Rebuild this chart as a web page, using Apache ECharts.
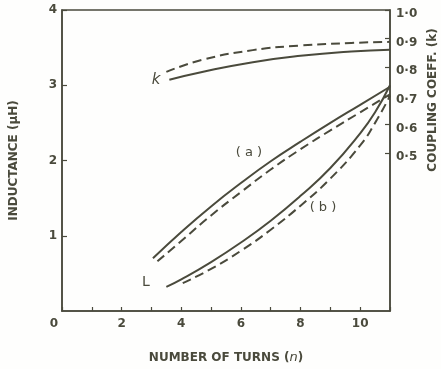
<!DOCTYPE html>
<html>
<head>
<meta charset="utf-8">
<script src="https://cdn.jsdelivr.net/npm/echarts@6/dist/echarts.min.js"></script>
<style>
  html, body { margin: 0; padding: 0; background: #fefefd; }
  #chart { width: 441px; height: 369px; }
</style>
</head>
<body>
<div id="chart"></div>
<script>
// [number of turns, value]
const kSolid = [[3.6, 0.757], [4.7, 0.784], [6.4, 0.818], [8.0, 0.84], [9.7, 0.855], [11, 0.861]];
const kDashed = [[3.5, 0.784], [4.7, 0.826], [6.4, 0.86], [8.0, 0.876], [9.7, 0.885], [11, 0.889]];
const aSolid = [[3.05, 0.7], [4, 1.05], [5, 1.39], [6, 1.7], [7, 1.99], [8, 2.25], [9, 2.5], [10, 2.74], [11, 2.98]];
const aDashed = [[3.2, 0.66], [4, 0.93], [5, 1.27], [6, 1.58], [7, 1.88], [8, 2.15], [9, 2.4], [10, 2.64], [11, 2.88]];
const bSolid = [[3.5, 0.32], [4, 0.42], [5, 0.65], [6, 0.91], [7, 1.2], [8, 1.53], [9, 1.9], [10, 2.36], [10.5, 2.64], [11, 3.0]];
const bDashed = [[4.05, 0.37], [5, 0.56], [6, 0.8], [7, 1.08], [8, 1.4], [9, 1.76], [10, 2.2], [10.5, 2.5], [11, 2.86]];
const kTicks = [0.5, 0.6, 0.7, 0.8, 0.9, 1.0];

const ink = "#4a4a3c";
const font = "DejaVu Sans";

let myChart = echarts.init(document.getElementById("chart"));

function line(data, dashed, axis) {
  return {
    type: "line",
    data: data,
    yAxisIndex: axis,
    smooth: 0.5,
    symbol: "none",
    lineStyle: { color: ink, width: 2, type: dashed ? [9, 5] : "solid" },
  };
}

myChart.setOption({
  animation: false,
  backgroundColor: "#fefefd",
  grid: {
    left: 61,
    right: 51,
    top: 10,
    bottom: 57,
    show: true,
    borderColor: ink,
    borderWidth: 1.5,
  },
  xAxis: {
    type: "value",
    min: 0,
    max: 11,
    interval: 1,
    name: "{t|NUMBER OF TURNS (}{i|n}{t|)}",
    nameLocation: "middle",
    nameGap: 40,
    nameTextStyle: {
      rich: {
        t: { fontFamily: font, fontSize: 12, fontWeight: "bold", color: ink },
        i: { fontFamily: font, fontSize: 13, fontStyle: "italic", color: ink },
      },
    },
    axisLine: { lineStyle: { color: ink, width: 1.5 } },
    axisTick: { inside: true, length: 4, lineStyle: { color: ink, width: 1.2 } },
    splitLine: { show: false },
    axisLabel: {
      margin: 7,
      formatter: (v) => (v === 0 ? "{z|0}" : v % 2 === 0 && v < 11 ? String(v) : ""),
      fontFamily: font,
      fontSize: 12,
      fontWeight: "bold",
      color: ink,
      rich: {
        z: { fontFamily: font, fontSize: 12, fontWeight: "bold", color: ink, padding: [0, 16, 0, 0] },
      },
    },
  },
  yAxis: [
    {
      type: "value",
      min: 0,
      max: 4,
      interval: 1,
      name: "INDUCTANCE (μH)",
      nameLocation: "middle",
      nameGap: 42,
      nameTextStyle: { fontFamily: font, fontSize: 12, fontWeight: "bold", color: ink },
      axisLine: { show: true, lineStyle: { color: ink, width: 1.5 } },
      axisTick: { inside: true, length: 5, lineStyle: { color: ink, width: 1.2 } },
      splitLine: { show: false },
      axisLabel: {
        margin: 5,
        showMinLabel: false,
        fontFamily: font,
        fontSize: 12,
        fontWeight: "bold",
        color: ink,
      },
    },
    {
      type: "value",
      min: -0.05,
      max: 1.0,
      position: "right",
      axisLine: { show: true, lineStyle: { color: ink, width: 1.5 } },
      axisTick: { inside: true, length: 5, customValues: kTicks, lineStyle: { color: ink, width: 1.2 } },
      splitLine: { show: false },
      axisLabel: {
        margin: 6,
        customValues: kTicks,
        formatter: (v) => v.toFixed(1).replace(".", "·"),
        verticalAlign: "top",
        lineHeight: 8,
        fontFamily: font,
        fontSize: 12,
        fontWeight: "bold",
        color: ink,
      },
    },
  ],
  graphic: [
    {
      type: "text",
      x: 433,
      y: 100,
      rotation: Math.PI / 2,
      style: {
        text: "COUPLING COEFF. (k)",
        fontFamily: font,
        fontSize: 12,
        fontWeight: "bold",
        fill: ink,
        align: "center",
        verticalAlign: "middle",
      },
    },
    {
      type: "text",
      x: 156,
      y: 80,
      style: { text: "k", fontFamily: font, fontSize: 15, fontStyle: "italic", fill: ink, align: "center", verticalAlign: "middle" },
    },
    {
      type: "text",
      x: 249,
      y: 153,
      style: { text: "( a )", fontFamily: font, fontSize: 13, fill: ink, align: "center", verticalAlign: "middle" },
    },
    {
      type: "text",
      x: 323,
      y: 208,
      style: { text: "( b )", fontFamily: font, fontSize: 13, fill: ink, align: "center", verticalAlign: "middle" },
    },
    {
      type: "text",
      x: 146,
      y: 282,
      style: { text: "L", fontFamily: font, fontSize: 14, fill: ink, align: "center", verticalAlign: "middle" },
    },
  ],
  series: [
    line(kSolid, false, 1),
    line(kDashed, true, 1),
    line(aSolid, false, 0),
    line(aDashed, true, 0),
    line(bSolid, false, 0),
    line(bDashed, true, 0),
  ],
});
</script>
</body>
</html>
